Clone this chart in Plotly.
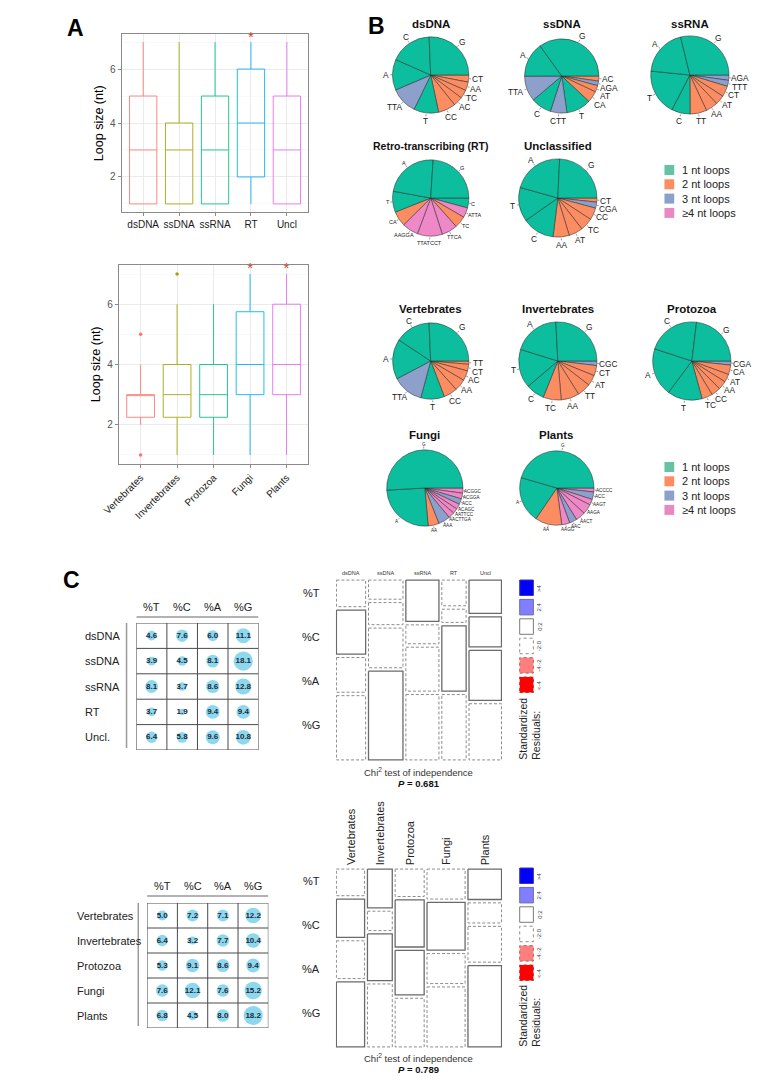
import numpy as np
import plotly.graph_objects as go

W, H = 773, 1083
FONT = "Liberation Sans, Arial, sans-serif"

# ------------------------------------------------------------------ data
# Panel A, top: loop size by Baltimore class (box statistics)
balt_cats = ["dsDNA", "ssDNA", "ssRNA", "RT", "Uncl"]
balt_q1 = [1, 1, 1, 2, 1]
balt_median = [3, 3, 3, 4, 3]
balt_q3 = [5, 4, 5, 6, 5]
balt_lower = [1, 1, 1, 1, 1]
balt_upper = [7, 7, 7, 7, 7]
balt_star_cats = ["RT"]

# Panel A, bottom: loop size by host
host_cats = ["Vertebrates", "Invertebrates", "Protozoa", "Fungi", "Plants"]
host_q1 = [2.25, 2.25, 2.25, 3, 3]
host_median = [3, 3, 3, 4, 4]
host_q3 = [3, 4, 4, 5.75, 6]
host_lower = [2, 1, 1, 1, 1]
host_upper = [4, 6, 6, 7, 7]
host_outlier_cats = ["Vertebrates", "Vertebrates", "Invertebrates"]
host_outlier_vals = [5, 1, 7]
host_star_cats = ["Fungi", "Plants"]
star_level = 7.15

# Panel B: loop sequence shares (%), clockwise from 3 o'clock
dsdna_labels = ["CT", "AA", "TC", "AC", "CC", "T", "TTA", "A", "C", "G"]
dsdna_values = [3.0, 3.6, 3.6, 4.0, 7.4, 10.5, 11.4, 13.0, 17.7, 25.6]
ssdna_labels = ["AC", "AGA", "AT", "CA", "T", "CTT", "C", "TTA", "A", "G"]
ssdna_values = [2.2, 2.0, 2.8, 5.0, 10.8, 7.2, 8.9, 11.1, 15.1, 35.0]
ssrna_labels = ["AGA", "TTT", "CT", "AT", "AA", "TT", "C", "T", "A", "G"]
ssrna_values = [2.2, 2.5, 4.4, 3.9, 5.0, 6.9, 7.7, 19.0, 19.6, 28.8]
rt_labels = ["C", "ATTA", "TC", "TTCA", "TTATCCT", "AAGGA", "CA", "T", "A", "G"]
rt_values = [4.2, 4.2, 5.0, 6.7, 10.6, 6.9, 6.4, 8.9, 23.2, 24.0]
uncl_labels = ["CT", "CGA", "CC", "TC", "AT", "AA", "C", "T", "A", "G"]
uncl_values = [1.7, 2.5, 5.0, 5.3, 5.8, 6.7, 13.3, 14.1, 21.4, 24.3]
vert_labels = ["TT", "CT", "AC", "AA", "CC", "T", "TTA", "A", "C", "G"]
vert_values = [1.4, 2.8, 4.2, 5.0, 5.8, 10.0, 13.1, 17.0, 15.0, 25.7]
inv_labels = ["CGC", "CT", "AT", "TT", "AA", "TC", "C", "T", "A", "G"]
inv_values = [1.9, 4.2, 4.4, 5.6, 7.5, 7.5, 7.7, 16.0, 19.4, 25.8]
proto_labels = ["CGA", "CA", "AT", "AA", "CC", "TC", "T", "A", "C", "G"]
proto_values = [1.7, 3.9, 3.3, 3.6, 3.9, 4.4, 14.4, 19.9, 21.9, 23.1]
fungi_labels = ["ACGGC", "ACGGA", "ACC", "ACAGC", "AATTCC", "AACTTGA", "AAA", "AA", "A", "G"]
fungi_values = [2.2, 2.4, 2.4, 2.2, 2.2, 2.6, 5.0, 4.6, 25.5, 50.9]
plants_labels = ["ACCCC", "ACC", "AAGT", "AAGA", "AACT", "AAC", "AAGG", "AA", "A", "G"]
plants_values = [1.7, 3.3, 2.5, 4.4, 4.2, 3.3, 3.5, 11.6, 20.0, 45.5]
loop_legend = ["1 nt loops", "2 nt loops", "3 nt loops", "\u22654 nt loops"]

# Panel C: nucleotide composition (%)
nt_cols = ["%T", "%C", "%A", "%G"]
balt_rows = ["dsDNA", "ssDNA", "ssRNA", "RT", "Uncl."]
balt_T = [4.6, 3.9, 8.1, 3.7, 6.4]
balt_C = [7.6, 4.5, 3.7, 1.9, 5.8]
balt_A = [6.0, 8.1, 8.6, 9.4, 9.6]
balt_G = [11.1, 18.1, 12.8, 9.4, 10.8]
host_rows = ["Vertebrates", "Invertebrates", "Protozoa", "Fungi", "Plants"]
host_T = [5.0, 6.4, 5.3, 7.6, 6.8]
host_C = [7.2, 3.2, 9.1, 12.1, 4.5]
host_A = [7.1, 7.7, 8.6, 7.6, 8.0]
host_G = [12.2, 10.4, 9.4, 15.2, 18.2]
balt_p = "0.681"
host_p = "0.789"
resid_labels = [">4", "2:4", "0:2", "-2:0", "-4:-2", "<-4"]

# ------------------------------------------------------------------ helpers
def PX(x):
    return x / W


def PY(y):
    return 1 - y / H


fig = go.Figure()
ann = []
shapes = []

HUE = ["#F8766D", "#A3A500", "#00BF7D", "#00B0F6", "#E76BF3"]
PIE_COL = {1: "#0CBE9D", 2: "#FC8D62", 3: "#8DA0CB", 4: "#EE88C6"}
LEG_COL = ["#66C2A5", "#FC8D62", "#8DA0CB", "#E78AC3"]


def text(x, y, s, size=11, color="black", xanchor="center", yanchor="middle",
         xref="paper", yref="paper", angle=0, align="center"):
    ann.append(dict(x=x, y=y, xref=xref, yref=yref, text=s, showarrow=False,
                    xanchor=xanchor, yanchor=yanchor, textangle=angle, align=align,
                    borderpad=0, font=dict(size=size, color=color, family=FONT)))


# ------------------------------------------------------------------ panel A
def boxpanel(xa, ya, cats, q1, med, q3, lo, hi, star_cats):
    for i, c in enumerate(cats):
        fig.add_trace(go.Box(
            x=[c], q1=[q1[i]], median=[med[i]], q3=[q3[i]],
            lowerfence=[lo[i]], upperfence=[hi[i]],
            line=dict(color=HUE[i], width=1), fillcolor="rgba(255,255,255,0)",
            whiskerwidth=0, boxpoints=False, width=0.76, opacity=0.85,
            xaxis=xa, yaxis=ya, showlegend=False, hoverinfo="skip"))
    fig.add_trace(go.Scatter(
        x=star_cats, y=[star_level] * len(star_cats), mode="text",
        text=["*"] * len(star_cats), textposition="middle center",
        textfont=dict(size=15, color="#E8392B", family=FONT),
        xaxis=xa, yaxis=ya, showlegend=False, hoverinfo="skip", cliponaxis=False))


boxpanel("x", "y", balt_cats, balt_q1, balt_median, balt_q3, balt_lower,
         balt_upper, balt_star_cats)
boxpanel("x2", "y2", host_cats, host_q1, host_median, host_q3, host_lower,
         host_upper, host_star_cats)
fig.add_trace(go.Scatter(
    x=host_outlier_cats, y=host_outlier_vals, mode="markers",
    marker=dict(size=3.5, color=[HUE[host_cats.index(c)] for c in host_outlier_cats]),
    xaxis="x2", yaxis="y2", showlegend=False, hoverinfo="skip"))


def box_axes(cats, xdom, ydom, anchor_x, anchor_y, tickangle):
    xa = dict(domain=xdom, type="category", categoryorder="array",
              categoryarray=cats, range=[-0.6, 4.6], anchor=anchor_y,
              showgrid=True, gridcolor="#EBEBEB", gridwidth=1,
              showline=True, mirror=True, linecolor="#8a8a8a", linewidth=1,
              ticks="outside", ticklen=3, tickcolor="#8a8a8a",
              tickfont=dict(size=10, color="#1a1a1a", family=FONT),
              tickangle=tickangle, zeroline=False, fixedrange=True)
    ya = dict(domain=ydom, range=[0.7, 7.3], tickvals=[2, 4, 6], anchor=anchor_x,
              showgrid=True, gridcolor="#EBEBEB", gridwidth=1,
              minor=dict(tickvals=[1, 3, 5, 7], showgrid=True,
                         gridcolor="#F5F5F5", gridwidth=0.6),
              showline=True, mirror=True, linecolor="#8a8a8a", linewidth=1,
              ticks="outside", ticklen=3, tickcolor="#8a8a8a",
              tickfont=dict(size=10, color="#555555", family=FONT),
              zeroline=False, fixedrange=True)
    return xa, ya


xa1, ya1 = box_axes(balt_cats, [PX(107), PX(298)], [PY(212), PY(34)], "x", "y", 0)
xa2, ya2 = box_axes(host_cats, [PX(104), PX(298)], [PY(464), PY(265)], "x2", "y2", -45)

text(PX(84), PY(123), "Loop size (nt)", size=12.5, angle=-90)
text(PX(81), PY(364), "Loop size (nt)", size=12.5, angle=-90)

# panel letters
text(PX(60), PY(28), "<b>A</b>", size=23)
text(PX(368), PY(26), "<b>B</b>", size=23)
text(PX(56), PY(580), "<b>C</b>", size=23)


# ------------------------------------------------------------------ panel B
def add_pie(labels, values, cx, cy, r, title, ty, fsize, tsize=11.5):
    colors = [PIE_COL[min(len(l), 4)] for l in labels]
    fig.add_trace(go.Pie(
        labels=labels, values=values, sort=False, direction="clockwise",
        rotation=90, marker=dict(colors=colors, line=dict(color="#262626", width=0.5)),
        textinfo="none", hoverinfo="skip", showlegend=False,
        domain=dict(x=[PX(cx - r), PX(cx + r)], y=[PY(cy + r), PY(cy - r)])))
    tot = float(sum(values))
    cum = 0.0
    rout = r + 2.0 + fsize * 0.25
    placed = []
    for lab, v in zip(labels, values):
        mid = -(cum + v / 2.0) / tot * 2 * np.pi
        cum += v
        c, s = np.cos(mid), np.sin(mid)
        # small theta-axis tick
        shapes.append(dict(type="line", xref="paper", yref="paper",
                           x0=PX(cx + (r + 0.5) * c), y0=PY(cy - (r + 0.5) * s),
                           x1=PX(cx + (r + 2.5) * c), y1=PY(cy - (r + 2.5) * s),
                           line=dict(color="#555555", width=0.6)))
        tw = 0.62 * fsize * len(lab)
        th = 0.8 * fsize
        x = cx + rout * c + tw / 2 * c
        y = cy - rout * s - th / 2 * s
        placed.append([x, y, lab, c])
    # keep neighbouring labels on the right side from touching
    sep = 1.02 * fsize
    right = [p for p in placed if p[3] > 0.5]
    right.sort(key=lambda p: p[1])
    for a, b in zip(right[:-1], right[1:]):
        if b[1] - a[1] < sep:
            b[1] = a[1] + sep
    for x, y, lab, _ in placed:
        text(PX(x), PY(y), lab, size=fsize, color="#222222")
    text(PX(cx), PY(ty), "<b>%s</b>" % title, size=tsize, color="#111111")


add_pie(dsdna_labels, dsdna_values, 423, 75, 39, "dsDNA", 24, 8.3)
add_pie(ssdna_labels, ssdna_values, 557, 76, 38, "ssDNA", 24, 8.3)
add_pie(ssrna_labels, ssrna_values, 688, 75, 40, "ssRNA", 24, 8.3)
add_pie(rt_labels, rt_values, 423, 198, 39, "Retro-transcribing (RT)", 146, 5.5, 10.5)
add_pie(uncl_labels, uncl_values, 553, 198, 40, "Unclassified", 146, 8.3)
add_pie(vert_labels, vert_values, 423, 361, 39, "Vertebrates", 309, 8.3)
add_pie(inv_labels, inv_values, 553, 361, 40, "Invertebrates", 309, 8.3)
add_pie(proto_labels, proto_values, 690, 361, 40, "Protozoa", 309, 8.3)
add_pie(fungi_labels, fungi_values, 417, 488, 39, "Fungi", 435, 4.6)
add_pie(plants_labels, plants_values, 552, 488, 38, "Plants", 435, 4.6)

for y0 in (170, 467):
    for k, lab in enumerate(loop_legend):
        yc = y0 + k * 14.3
        shapes.append(dict(type="rect", xref="paper", yref="paper",
                           x0=PX(662), x1=PX(672), y0=PY(yc + 5), y1=PY(yc - 5),
                           fillcolor=LEG_COL[k], line=dict(width=0)))
        text(PX(679), PY(yc), lab, size=11, color="#222222", xanchor="left")


# ------------------------------------------------------------------ panel C tables
def add_table(xa, ya, rows, T, C, A, G, yt, yb, label_x, head_y, line_x):
    vals = [T, C, A, G]
    xs, ys, sz, tx = [], [], [], []
    for j in range(4):
        for i in range(len(rows)):
            v = vals[j][i]
            xs.append(j + 1)
            ys.append(i + 1)
            sz.append(4.5 * np.sqrt(v))
            tx.append("<b>%.1f</b>" % v)
    fig.add_trace(go.Scatter(
        x=xs, y=ys, mode="markers+text", text=tx, textposition="middle center",
        marker=dict(size=sz, color="#5CC8E8", line=dict(width=0)),
        textfont=dict(size=8, color="#1f2a36", family=FONT),
        xaxis=xa, yaxis=ya, showlegend=False, hoverinfo="skip", cliponaxis=False))
    for k in range(5):
        shapes.append(dict(type="line", xref=xa, yref=ya, x0=k + 0.5, x1=k + 0.5,
                           y0=0.5, y1=len(rows) + 0.5, line=dict(color="#4a4a4a", width=1)))
    for k in range(len(rows) + 1):
        shapes.append(dict(type="line", xref=xa, yref=ya, x0=0.5, x1=4.5,
                           y0=k + 0.5, y1=k + 0.5, line=dict(color="#4a4a4a", width=1)))
    for j, c in enumerate(nt_cols):
        text(j + 1, PY(head_y), c, size=11, color="#222222", xref=xa)
    shapes.append(dict(type="line", xref=xa, yref="paper", x0=0.5, x1=4.5,
                       y0=PY(head_y + 10), y1=PY(head_y + 10),
                       line=dict(color="#9a9a9a", width=1.5)))
    shapes.append(dict(type="line", xref="paper", yref="paper", x0=PX(line_x),
                       x1=PX(line_x), y0=PY(yt), y1=PY(yb - 2),
                       line=dict(color="#9a9a9a", width=1.5)))
    for i, r in enumerate(rows):
        text(PX(label_x), i + 1, r, size=11, color="#222222", xanchor="left", yref=ya)


add_table("x3", "y3", balt_rows, balt_T, balt_C, balt_A, balt_G, 623, 750, 69, 607, 112)
add_table("x5", "y5", host_rows, host_T, host_C, host_A, host_G, 903, 1028, 60, 886, 124)


def tbl_axes(xl, xr, yt, yb, anc):
    xa = dict(domain=[PX(xl), PX(xr)], range=[0.5, 4.5], visible=False,
              anchor=anc[1], fixedrange=True)
    ya = dict(domain=[PY(yb), PY(yt)], range=[5.5, 0.5], visible=False,
              anchor=anc[0], fixedrange=True)
    return xa, ya


xa3, ya3 = tbl_axes(122, 247, 623, 750, ("x3", "y3"))
xa5, ya5 = tbl_axes(133, 257, 903, 1028, ("x5", "y5"))


# ------------------------------------------------------------------ panel C mosaics
def resid_style(r):
    if r > 4:
        return "#0000FF", "solid"
    if r > 2:
        return "#7F7FFF", "solid"
    if r >= 0:
        return "#FFFFFF", "solid"
    if r >= -2:
        return "#FFFFFF", "dash"
    if r >= -4:
        return "#FF7F7F", "dash"
    return "#FF0000", "dash"


def add_mosaic(xa, ya, T, C, A, G, gapx, gapy):
    M = np.array([T, C, A, G], dtype=float)
    coltot = M.sum(0)
    rowtot = M.sum(1)
    exp = np.outer(rowtot, coltot) / M.sum()
    res = (M - exp) / np.sqrt(exp)
    avail = 1 - gapy * (M.shape[0] - 1)
    x0 = 0.0
    centers = []
    for j in range(M.shape[1]):
        w = coltot[j]
        y0 = 0.0
        for i in range(M.shape[0]):
            h = avail * M[i, j] / coltot[j]
            fc, dash = resid_style(res[i, j])
            lc = "#6a6a6a" if dash == "solid" else "#8c8c8c"
            lw = 1.3 if dash == "solid" else 1.0
            fig.add_trace(go.Scatter(
                x=[x0, x0 + w, x0 + w, x0, x0], y=[y0, y0, y0 + h, y0 + h, y0],
                mode="lines", fill="toself", fillcolor=fc,
                line=dict(color=lc, width=lw, dash="3px,2px" if dash == "dash" else "solid"),
                xaxis=xa, yaxis=ya, showlegend=False, hoverinfo="skip"))
            y0 += h + gapy
        centers.append(x0 + w / 2)
        x0 += w + gapx
    return x0 - gapx, centers


tot1, cen1 = add_mosaic("x4", "y4", balt_T, balt_C, balt_A, balt_G, 2.9, 0.019)
tot2, cen2 = add_mosaic("x6", "y6", host_T, host_C, host_A, host_G, 3.2, 0.019)


def mos_axes(xl, xr, yt, yb, total, anc):
    xa = dict(domain=[PX(xl), PX(xr)], range=[-0.6, total + 0.6], visible=False,
              anchor=anc[1], fixedrange=True)
    ya = dict(domain=[PY(yb), PY(yt)], range=[1.006, -0.006], visible=False,
              anchor=anc[0], fixedrange=True)
    return xa, ya


xa4, ya4 = mos_axes(326, 496, 579, 761, tot1, ("x4", "y4"))
xa6, ya6 = mos_axes(326, 496, 868, 1048, tot2, ("x6", "y6"))

# mosaic labels
for c, xc in zip(balt_cats, cen1):
    text(xc, PY(573), c, size=5.5, color="#333333", xref="x4")
for c, xc in zip(host_cats, cen2):
    text(xc, PY(866), c, size=11, color="#222222", xref="x6", angle=-90,
         yanchor="bottom")
for k, c in enumerate(nt_cols):
    text(PX(311), PY(593 + 44 * k), c, size=11, color="#222222", xanchor="right")
    text(PX(311), PY(881 + 44 * k), c, size=11, color="#222222", xanchor="right")

for ty, p in ((772, balt_p), (1058, host_p)):
    text(PX(411), PY(ty), "Chi<sup>2</sup> test of independence", size=9.5,
         color="#333333")
    text(PX(411), PY(ty + 11), "<b><i>P</i> = %s</b>" % p, size=9.5, color="#111111")

# residual legends
RES_FILL = ["#0000FF", "#7F7FFF", "#FFFFFF", "#FFFFFF", "#FF7F7F", "#FF0000"]
RES_LINE = ["#3a3aa0", "#6a6ab0", "#7a7a7a", "#8c8c8c", "#b06060", "#b03030"]
for top, bottom in ((580, 761), (868, 1048)):
    for k in range(6):
        yt = top + 19.4 * k
        shapes.append(dict(type="rect", xref="paper", yref="paper",
                           x0=PX(514), x1=PX(528), y0=PY(yt + 15.5), y1=PY(yt),
                           fillcolor=RES_FILL[k],
                           line=dict(color=RES_LINE[k], width=1,
                                     dash="solid" if k < 3 else "dot")))
        text(PX(534), PY(yt + 7.8), resid_labels[k], size=6, color="#444444",
             angle=-90)
    text(PX(510), PY(bottom), "Standardized<br>Residuals:", size=10.5,
         color="#222222", angle=-90, xanchor="left", yanchor="bottom", align="left")

# ------------------------------------------------------------------ layout
fig.update_layout(
    width=W, height=H, margin=dict(l=0, r=0, t=0, b=0),
    paper_bgcolor="white", plot_bgcolor="white", showlegend=False,
    font=dict(family=FONT, color="#222222"),
    boxmode="overlay",
    xaxis=xa1, yaxis=ya1, xaxis2=xa2, yaxis2=ya2,
    xaxis3=xa3, yaxis3=ya3, xaxis4=xa4, yaxis4=ya4,
    xaxis5=xa5, yaxis5=ya5, xaxis6=xa6, yaxis6=ya6,
    annotations=ann, shapes=shapes,
)

fig.write_html("out.html", config={"displayModeBar": False, "staticPlot": True},
               post_script="document.body.style.margin='0';"
                           "document.body.style.overflow='hidden';")
